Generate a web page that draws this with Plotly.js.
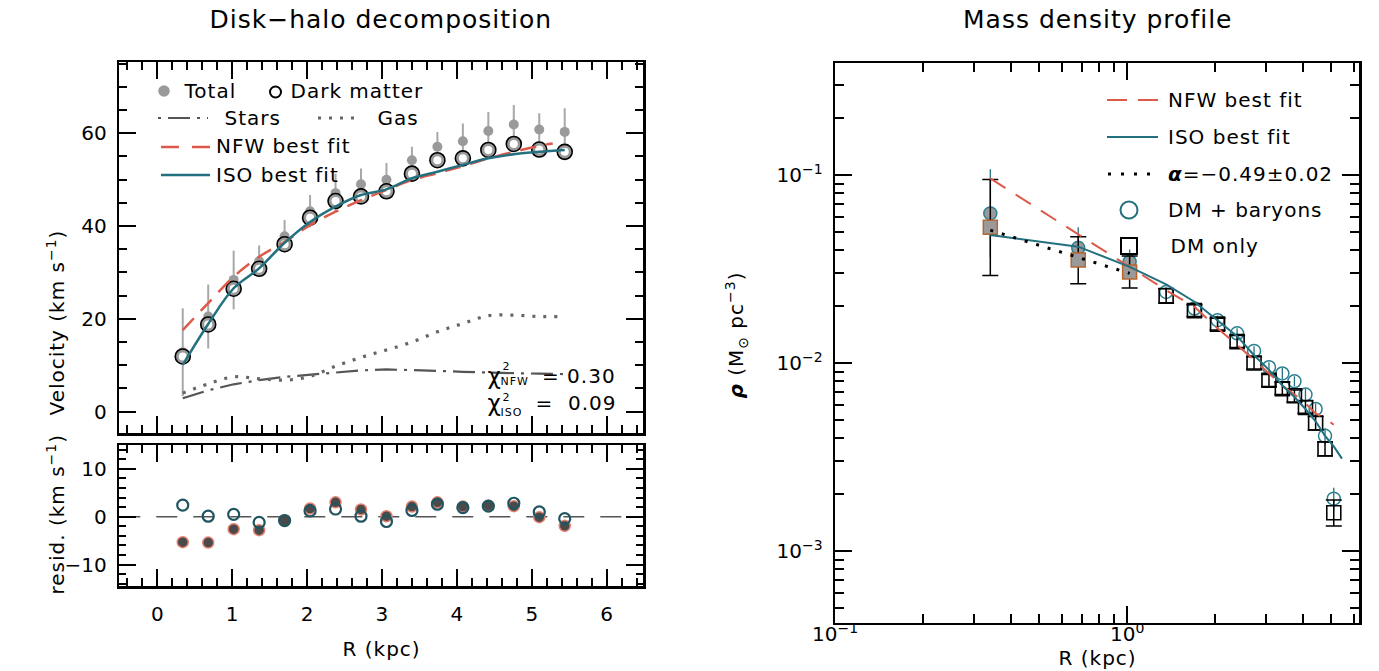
<!DOCTYPE html>
<html>
<head>
<meta charset="utf-8">
<script src="https://cdn.plot.ly/plotly-3.0.1.min.js"></script>
<style>
  html, body { margin: 0; padding: 0; background: #fff; }
  #chart { width: 1379px; height: 671px; }
  .main-svg .annotation-text { letter-spacing: 1px; }
</style>
</head>
<body>
<div id="chart"></div>
<script>
// ---------------- data ----------------
// Left: rotation curve decomposition
const radius = [0.34, 0.68, 1.02, 1.36, 1.70, 2.04, 2.38, 2.72, 3.06, 3.40, 3.74, 4.08, 4.42, 4.76, 5.10, 5.44];
const vTotal = [12.8, 20.5, 28.4, 32.4, 37.8, 43.2, 47.1, 49.0, 50.0, 54.2, 57.1, 58.3, 60.5, 61.9, 60.8, 60.3];
const vTotalErr = [9.5, 6.9, 6.3, 3.4, 3.5, 3.5, 4.2, 3.4, 3.6, 2.9, 3.2, 3.8, 4.1, 4.2, 3.5, 5.1];
const vDarkMatter = [11.9, 18.8, 26.5, 30.8, 36.1, 41.8, 45.4, 46.4, 47.5, 51.3, 54.2, 54.6, 56.4, 57.7, 56.5, 56.0];
const vStars = [2.9, 4.6, 5.9, 6.8, 7.5, 8.0, 8.5, 8.9, 9.1, 9.0, 8.8, 8.6, 8.4, 8.3, 8.2, 8.1];
const vGas = [4.0, 6.0, 7.5, 7.1, 6.8, 7.6, 9.8, 11.7, 13.3, 15.0, 17.2, 19.0, 20.7, 20.8, 20.5, 20.5];
const vIsoFit = [10.1, 18.9, 26.6, 30.9, 36.4, 40.9, 44.2, 46.7, 47.9, 50.3, 51.7, 53.2, 54.6, 55.5, 56.0, 56.4];
const nfwFitRadius = [0.34, 0.68, 1.02, 1.36, 1.70, 2.04, 2.38, 2.72, 3.06, 3.40, 3.74, 4.08, 4.42, 4.76, 5.10, 5.28];
const vNfwFit = [17.6, 23.4, 29.1, 33.4, 36.6, 40.2, 43.1, 45.6, 47.8, 49.9, 51.4, 52.9, 54.6, 56.0, 57.3, 57.8];
// Residuals (km/s)
const residNfw = [-5.3, -5.4, -2.6, -2.8, -0.8, 1.7, 3.0, 1.5, 0.1, 2.1, 3.0, 2.1, 2.3, 2.2, -0.1, -1.9];
const residIso = [2.4, 0.1, 0.5, -1.2, -0.8, 1.2, 1.6, 0.1, -1.0, 1.3, 2.6, 1.9, 2.2, 2.8, 1.0, -0.4];

// Right: mass density profile (Msun/pc^3)
const rhoRadius = [0.34, 0.68, 1.02, 1.36, 1.70, 2.04, 2.38, 2.72, 3.06, 3.40, 3.74, 4.08, 4.42, 4.76, 5.10];
const rhoBaryons = [0.0625, 0.0410, 0.0346, 0.0239, 0.0195, 0.0169, 0.0144, 0.0116, 0.0095, 0.0088, 0.0080, 0.0068, 0.0057, 0.0041, 0.0019];
const rhoBaryonsErrUp = [0.045, 0.0117, 0.0056, 0.0014, 0.0012, 0.0010, 0.0009, 0.0007, 0.0006, 0.0006, 0.0005, 0.0005, 0.0004, 0.0004, 0.00027];
const rhoBaryonsErrDn = [0.026, 0.0090, 0.0048, 0.0014, 0.0012, 0.0010, 0.0009, 0.0007, 0.0006, 0.0006, 0.0005, 0.0005, 0.0004, 0.0004, 0.00024];
const rhoDmOnly = [0.0527, 0.0353, 0.0305, 0.0228, 0.0190, 0.0161, 0.0130, 0.0100, 0.0081, 0.0073, 0.0067, 0.0058, 0.0048, 0.0035, 0.0016];
const rhoDmErrUp = [0.042, 0.0117, 0.0066, 0.0021, 0.0014, 0.0012, 0.0010, 0.0008, 0.0006, 0.0006, 0.0005, 0.0005, 0.0004, 0.0003, 0.00027];
const rhoDmErrDn = [0.0235, 0.0089, 0.0054, 0.0020, 0.0013, 0.0011, 0.0009, 0.0007, 0.0006, 0.0005, 0.0005, 0.0004, 0.0004, 0.0003, 0.00024];
const rhoNfwFit = [0.096, 0.0484, 0.0323, 0.0244, 0.0199, 0.0153, 0.0125, 0.0104, 0.0088, 0.0076, 0.0068, 0.0061, 0.0054, 0.0051, 0.0047];
const isoRhoRadius = [0.34, 0.68, 1.02, 1.36, 1.70, 2.04, 2.38, 2.72, 3.06, 3.40, 3.74, 4.08, 4.42, 4.76, 5.10, 5.44];
const rhoIsoFit = [0.048, 0.0416, 0.0325, 0.0262, 0.0212, 0.0169, 0.0139, 0.0110, 0.0092, 0.0076, 0.0066, 0.0057, 0.0049, 0.0041, 0.0036, 0.0031];
const slopeRadius = [0.34, 0.68, 1.02];
const rhoSlopeFit = [0.0509, 0.0363, 0.0300];
const innerCount = 3; // first bins drawn filled

// tick labels
const rhoXTickVals = [0.1, 1];
const rhoXTickText = ['10<sup>−1</sup>', '10<sup>0</sup>'];
const rhoYTickVals = [0.001, 0.01, 0.1];
const rhoYTickText = ['10<sup>−3</sup>', '10<sup>−2</sup>', '10<sup>−1</sup>'];

// ---------------- styling ----------------
const W = 1379, H = 671;
const X = p => p / W;
const Y = p => 1 - p / H;
const FONT = 'DejaVu Sans, sans-serif';
const RED = '#dd5a4b';
const TEAL = '#23717f';
const GRAY = '#9a9a9a';

const baseAxis = {
  showline: true, linewidth: 2.5, linecolor: '#000', mirror: 'allticks',
  ticks: 'inside', ticklen: 17, tickwidth: 2, tickcolor: '#000',
  showgrid: false, zeroline: false,
  tickfont: { family: FONT, size: 20, color: '#000' }
};

const traces = [
  // Total (with error bars)
  { x: radius, y: vTotal, xaxis: 'x', yaxis: 'y', mode: 'markers', type: 'scatter',
    error_y: { type: 'data', array: vTotalErr, visible: true, color: '#a8a8a8', thickness: 2, width: 0 },
    marker: { size: 10, color: GRAY } },
  // Dark matter: black ring + gray ring + white core
  { x: radius, y: vDarkMatter, xaxis: 'x', yaxis: 'y', mode: 'markers', type: 'scatter',
    marker: { size: 15, color: GRAY, line: { color: '#000', width: 1.6 } } },
  { x: radius, y: vDarkMatter, xaxis: 'x', yaxis: 'y', mode: 'markers', type: 'scatter',
    marker: { size: 8, color: '#fff' } },
  // Stars, gas
  { x: radius, y: vStars, xaxis: 'x', yaxis: 'y', mode: 'lines', type: 'scatter',
    line: { color: '#555', width: 2.2, dash: '22px,7px,3px,7px' } },
  { x: radius, y: vGas, xaxis: 'x', yaxis: 'y', mode: 'lines', type: 'scatter',
    line: { color: '#666', width: 3.2, dash: '3px,8px', shape: 'spline' } },
  // NFW and ISO fits
  { x: nfwFitRadius, y: vNfwFit, xaxis: 'x', yaxis: 'y', mode: 'lines', type: 'scatter',
    line: { color: RED, width: 2.5, dash: '16px,10px', shape: 'spline' } },
  { x: radius, y: vIsoFit, xaxis: 'x', yaxis: 'y', mode: 'lines', type: 'scatter',
    line: { color: TEAL, width: 2.5, shape: 'spline' } },

  // Residuals
  { x: radius, y: residNfw, xaxis: 'x2', yaxis: 'y2', mode: 'markers', type: 'scatter',
    marker: { size: 11, color: '#4a4a4a', line: { color: '#e58070', width: 1.5 } } },
  { x: radius, y: residIso, xaxis: 'x2', yaxis: 'y2', mode: 'markers', type: 'scatter',
    marker: { size: 11, symbol: 'circle-open', color: '#1f5560', line: { width: 2.2 } } },

  // Right: DM + baryons circles (open)
  { x: rhoRadius.slice(innerCount), y: rhoBaryons.slice(innerCount), xaxis: 'x3', yaxis: 'y3',
    mode: 'markers', type: 'scatter',
    error_y: { type: 'data', symmetric: false, array: rhoBaryonsErrUp.slice(innerCount), arrayminus: rhoBaryonsErrDn.slice(innerCount),
      color: TEAL, thickness: 1.3, width: 0 },
    marker: { size: 13, symbol: 'circle-open', color: '#2a8090', line: { width: 1.5 } } },
  // inner filled circles
  { x: rhoRadius.slice(0, innerCount), y: rhoBaryons.slice(0, innerCount), xaxis: 'x3', yaxis: 'y3',
    mode: 'markers', type: 'scatter',
    error_y: { type: 'data', symmetric: false, array: rhoBaryonsErrUp.slice(0, innerCount), arrayminus: rhoBaryonsErrDn.slice(0, innerCount),
      color: TEAL, thickness: 1.3, width: 0 },
    marker: { size: 13, color: GRAY, line: { color: '#2a8090', width: 1.5 } } },
  // DM only squares (open)
  { x: rhoRadius.slice(innerCount), y: rhoDmOnly.slice(innerCount), xaxis: 'x3', yaxis: 'y3',
    mode: 'markers', type: 'scatter',
    error_y: { type: 'data', symmetric: false, array: rhoDmErrUp.slice(innerCount), arrayminus: rhoDmErrDn.slice(innerCount),
      color: '#000', thickness: 1.5, width: 8 },
    marker: { size: 14, symbol: 'square-open', color: '#000', line: { width: 1.6 } } },
  // inner filled squares
  { x: rhoRadius.slice(0, innerCount), y: rhoDmOnly.slice(0, innerCount), xaxis: 'x3', yaxis: 'y3',
    mode: 'markers', type: 'scatter',
    error_y: { type: 'data', symmetric: false, array: rhoDmErrUp.slice(0, innerCount), arrayminus: rhoDmErrDn.slice(0, innerCount),
      color: '#000', thickness: 1.5, width: 8 },
    marker: { size: 14, symbol: 'square', color: GRAY, line: { color: '#b8652e', width: 1.5 } } },
  // fits
  { x: rhoRadius, y: rhoNfwFit, xaxis: 'x3', yaxis: 'y3', mode: 'lines', type: 'scatter',
    line: { color: RED, width: 2, dash: '18px,12px' } },
  { x: isoRhoRadius, y: rhoIsoFit, xaxis: 'x3', yaxis: 'y3', mode: 'lines', type: 'scatter',
    line: { color: TEAL, width: 2 } },
  { x: slopeRadius, y: rhoSlopeFit, xaxis: 'x3', yaxis: 'y3', mode: 'lines', type: 'scatter',
    line: { color: '#000', width: 3, dash: '3px,9px' } }
];

// ---------------- decorations: legends, labels ----------------
function txt(text, x, y, opts) {
  return Object.assign({ text: text, x: X(x), y: Y(y), xref: 'paper', yref: 'paper',
    showarrow: false, xanchor: 'left', yanchor: 'middle',
    font: { family: FONT, size: 20, color: '#000' } }, opts || {});
}
function small(text, x, y) {
  return txt(text, x, y, { font: { family: FONT, size: 11, color: '#000' } });
}
function hline(x0, x1, y, color, width, dash) {
  return { type: 'line', xref: 'paper', yref: 'paper', x0: X(x0), x1: X(x1), y0: Y(y), y1: Y(y),
    line: { color: color, width: width, dash: dash || 'solid' } };
}
function circ(cx, cy, r, fill, lineColor, lw) {
  return { type: 'circle', xref: 'paper', yref: 'paper', x0: X(cx - r), x1: X(cx + r), y0: Y(cy + r), y1: Y(cy - r),
    fillcolor: fill, line: { color: lineColor, width: lw } };
}
function sq(cx, cy, h, lineColor, lw) {
  return { type: 'rect', xref: 'paper', yref: 'paper', x0: X(cx - h), x1: X(cx + h), y0: Y(cy + h), y1: Y(cy - h),
    fillcolor: 'rgba(0,0,0,0)', line: { color: lineColor, width: lw } };
}

const shapes = [
  // residual zero line
  { type: 'line', xref: 'x2 domain', yref: 'y2', x0: 0, x1: 1, y0: 0, y1: 0,
    line: { color: '#555', width: 1.6, dash: '21px,16px' }, layer: 'below' },
  // left legend
  circ(164, 91, 5.8, GRAY, GRAY, 0),
  circ(275.5, 92, 5.5, '#fff', '#000', 2),
  hline(158, 208, 118, '#555', 2.2, '3px,7px,22px,7px'),
  hline(318, 360, 118, '#666', 3.2, '3px,8px'),
  hline(161, 210, 147, RED, 2.5, '18px,13px'),
  hline(161, 210, 175, TEAL, 2.5),
  // right legend
  hline(1107, 1158, 100, RED, 2, '20px,11px'),
  hline(1107, 1158, 137, TEAL, 2),
  hline(1108, 1156, 174, '#000', 3, '3px,10px'),
  circ(1129, 210, 8.5, 'rgba(0,0,0,0)', TEAL, 2),
  sq(1129, 246, 8, '#000', 2)
];

const annotations = [
  txt('Disk−halo decomposition', 381, 19, { xanchor: 'center', font: { family: FONT, size: 25, color: '#000' } }),
  txt('Mass density profile', 1097, 19, { xanchor: 'center', font: { family: FONT, size: 25, color: '#000' } }),
  txt('R (kpc)', 381, 649, { xanchor: 'center' }),
  txt('R (kpc)', 1097, 658, { xanchor: 'center' }),
  txt('Velocity (km s<sup>−1</sup>)', 56, 322, { xanchor: 'center', textangle: -90 }),
  txt('resid. (km s<sup>−1</sup>)', 56, 514, { xanchor: 'center', textangle: -90 }),
  txt('<b><i>ρ</i></b> (M<sub>⊙</sub> pc<sup>−3</sup>)', 736, 335, { xanchor: 'center', textangle: -90 }),
  // left legend text
  txt('Total', 184, 91),
  txt('Dark matter', 294, 91),
  txt('Stars', 225, 118),
  txt('Gas', 377, 118),
  txt('NFW best fit', 220, 146),
  txt('ISO best fit', 220, 175),
  // chi-square (stacked super/subscripts)
  txt('χ', 486, 376, { font: { family: FONT, size: 23, color: '#000' } }),
  small('2', 501, 366),
  small('NFW', 500, 382),
  txt('= 0.30', 615, 376, { xanchor: 'right' }),
  txt('χ', 486, 403, { font: { family: FONT, size: 23, color: '#000' } }),
  small('2', 501, 397),
  small('ISO', 500, 412),
  txt('=  0.09', 615, 403, { xanchor: 'right' }),
  // right legend text
  txt('NFW best fit', 1172, 100),
  txt('ISO best fit', 1172, 137),
  txt('<b><i>α</i></b>=−0.49±0.02', 1172, 174),
  txt('DM + baryons', 1172, 210),
  txt('DM only', 1172, 246)
];

const leftX0 = 119.3, leftX1 = 643;
const layout = {
  width: W, height: H,
  margin: { l: 0, r: 0, t: 0, b: 0 },
  paper_bgcolor: '#fff', plot_bgcolor: '#fff',
  showlegend: false,
  font: { family: FONT, size: 20, color: '#000' },
  xaxis: Object.assign({}, baseAxis, {
    domain: [X(leftX0), X(leftX1)], anchor: 'y', range: [-0.507, 6.485],
    tick0: 0, dtick: 1, showticklabels: false,
    minor: { dtick: 0.2, tick0: 0, ticks: 'inside', ticklen: 8, tickwidth: 2, tickcolor: '#000' }
  }),
  yaxis: Object.assign({}, baseAxis, {
    domain: [Y(433.3), Y(62.3)], anchor: 'x', range: [-4.66, 75.3],
    tick0: 0, dtick: 20, ticklabelstandoff: 6,
    minor: { dtick: 5, tick0: 0, ticks: 'inside', ticklen: 8, tickwidth: 2, tickcolor: '#000' }
  }),
  xaxis2: Object.assign({}, baseAxis, {
    domain: [X(leftX0), X(leftX1)], anchor: 'y2', range: [-0.507, 6.485],
    tick0: 0, dtick: 1, ticklabelstandoff: 8,
    minor: { dtick: 0.2, tick0: 0, ticks: 'inside', ticklen: 8, tickwidth: 2, tickcolor: '#000' }
  }),
  yaxis2: Object.assign({}, baseAxis, {
    domain: [Y(586), Y(445)], anchor: 'x2', range: [-14.44, 14.94],
    tick0: 0, dtick: 10, ticklabelstandoff: 6,
    minor: { dtick: 2, tick0: 0, ticks: 'inside', ticklen: 7, tickwidth: 2, tickcolor: '#000' }
  }),
  xaxis3: Object.assign({}, baseAxis, {
    type: 'log', domain: [X(835.1), X(1359.3)], anchor: 'y3', range: [-1, 0.795],
    tickmode: 'array', tickvals: rhoXTickVals, ticktext: rhoXTickText, ticklabelstandoff: -8,
    minor: { dtick: 'D1', ticks: 'inside', ticklen: 9, tickwidth: 2, tickcolor: '#000' }
  }),
  yaxis3: Object.assign({}, baseAxis, {
    type: 'log', domain: [Y(622.5), Y(63)], anchor: 'x3', range: [-3.38, -0.404],
    tickmode: 'array', tickvals: rhoYTickVals, ticktext: rhoYTickText, ticklabelstandoff: 6,
    minor: { dtick: 'D1', ticks: 'inside', ticklen: 9, tickwidth: 2, tickcolor: '#000' }
  }),
  shapes: shapes,
  annotations: annotations
};

Plotly.newPlot('chart', traces, layout, { staticPlot: true, displayModeBar: false });
</script>
</body>
</html>
